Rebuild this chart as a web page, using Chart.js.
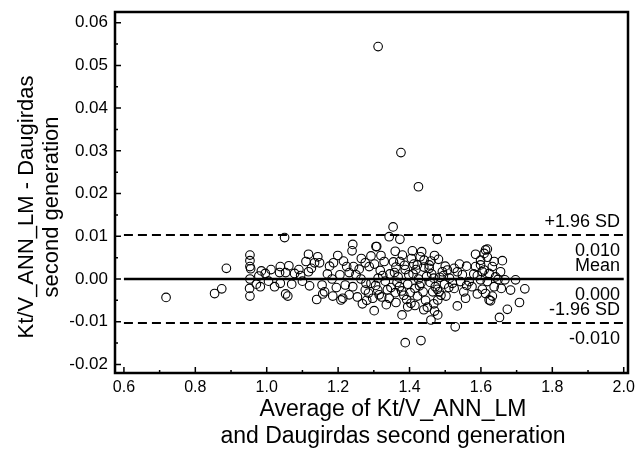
<!DOCTYPE html>
<html>
<head>
<meta charset="utf-8">
<script src="https://cdn.jsdelivr.net/npm/chart.js@4.4.1/dist/chart.umd.min.js"></script>
<style>
  html, body { margin: 0; padding: 0; background: #fff; }
</style>
</head>
<body>
<canvas id="chart" width="635" height="449"></canvas>
<script>
// Bland-Altman: average of the two methods vs their difference
const avgValues = [
  0.718, 0.854, 0.874, 0.887,
  0.953, 0.953, 0.953, 0.955, 0.953, 0.952, 0.953,
  0.971, 0.982, 0.985, 0.996, 0.978,
  1.050, 1.038, 1.062, 1.036, 1.053, 1.078, 1.038, 1.022, 1.053, 1.059,
  1.117, 1.143, 1.110, 1.134, 1.148, 1.117, 1.120, 1.155, 1.162, 1.157, 1.140,
  1.183, 1.176, 1.187, 1.199, 1.241, 1.239, 1.224, 1.243, 1.231, 1.220, 1.241, 1.231, 1.213, 1.208,
  1.259, 1.264, 1.276, 1.287, 1.278, 1.276, 1.292, 1.306, 1.301, 1.297, 1.311, 1.292,
  1.254, 1.268, 1.285, 1.250, 1.205, 1.195, 1.170, 1.100, 1.090,
  1.312, 1.376, 1.425, 1.354,
  1.343, 1.373, 1.478, 1.308, 1.408, 1.434, 1.380, 1.373, 1.481, 1.585, 1.613, 1.599, 1.329, 1.441,
  1.455, 1.422, 1.525, 1.506, 1.492, 1.534, 1.585, 1.609,
  1.543, 1.567, 1.525, 1.557, 1.534, 1.379, 1.460, 1.479, 1.528, 1.388, 1.432, 1.404, 1.450, 1.479,
  1.483, 1.343, 1.315, 1.623,
  1.618, 1.609, 1.618, 1.637, 1.660, 1.632, 1.655, 1.599, 1.604, 1.623, 1.641, 1.599, 1.618, 1.648,
  1.667, 1.697, 1.604, 1.637, 1.657, 1.683, 1.723, 1.632, 1.627, 1.708, 1.674, 1.652, 1.613,
  1.302, 1.318, 1.325, 1.332, 1.305, 1.338, 1.322, 1.345, 1.312, 1.348,
  1.355, 1.362, 1.358, 1.368, 1.365, 1.372, 1.378, 1.384, 1.392, 1.388, 1.395, 1.398, 1.360, 1.386,
  1.405, 1.412, 1.418, 1.410, 1.425, 1.432, 1.415, 1.438, 1.422, 1.445, 1.440, 1.428, 1.448, 1.402,
  1.455, 1.462, 1.468, 1.458, 1.472, 1.465, 1.488, 1.495, 1.478, 1.485, 1.498,
  1.512, 1.520, 1.548, 1.560, 1.575, 1.590, 1.552, 1.502,
  1.415, 1.440, 1.468, 1.395, 1.362, 1.335, 1.470, 1.430, 1.470, 1.360, 1.320, 1.460, 1.500, 1.510,
  1.540, 1.560, 1.580, 1.590,
  1.005, 1.012, 1.070, 1.095, 1.125, 1.185, 1.215, 1.265, 1.280
];
const diffValues = [
  -0.0043, -0.0034, -0.0023, 0.0025,
  0.0056, 0.0043, 0.0029, 0.0024, 0.0000, -0.0022, -0.0040,
  -0.0012, -0.0018, 0.0019, 0.0013, 0.0007,
  0.0097, 0.0029, 0.0031, 0.0015, 0.0015, 0.0013, -0.0010, -0.0018, -0.0035, -0.0040,
  0.0058, 0.0052, 0.0041, 0.0038, 0.0038, 0.0017, -0.0016, -0.0014, -0.0030, -0.0035, -0.0048,
  0.0000, 0.0030, 0.0038, 0.0055, 0.0081, 0.0066, 0.0029, 0.0029, 0.0015, -0.0014, -0.0018, -0.0037, -0.0045, -0.0049,
  0.0023, 0.0000, 0.0038, 0.0029, -0.0010, -0.0026, 0.0054, 0.0076, -0.0074, -0.0045, -0.0026, -0.0010,
  -0.0042, -0.0058, -0.0033, 0.0010, 0.0010, -0.0020, 0.0012, -0.0005, 0.0022,
  0.0544, 0.0296, 0.0216, 0.0122,
  0.0099, 0.0093, 0.0093, 0.0076, 0.0066, 0.0064, 0.0056, 0.0041, 0.0046, 0.0058, 0.0068, 0.0044, 0.0041, 0.0044,
  0.0033, 0.0033, 0.0025, 0.0021, 0.0017, 0.0017, 0.0029, 0.0021,
  -0.0006, -0.0006, -0.0022, -0.0045, -0.0063, -0.0084, -0.0096, -0.0084, -0.0112, -0.0149, -0.0144, -0.0057, -0.0066, -0.0049,
  -0.0030, -0.0045, -0.0037, -0.0049,
  0.0070, 0.0060, 0.0051, 0.0041, 0.0043, 0.0029, 0.0017, 0.0033, 0.0017, 0.0013, 0.0005, -0.0002, -0.0006, -0.0001,
  -0.0002, -0.0002, -0.0024, -0.0018, -0.0022, -0.0026, -0.0023, -0.0040, -0.0051, -0.0055, -0.0071, -0.0090, -0.0034,
  0.0035, 0.0020, 0.0008, -0.0005, -0.0015, -0.0025, -0.0042, 0.0012, 0.0002, -0.0020,
  0.0040, 0.0028, 0.0015, 0.0005, -0.0008, -0.0018, -0.0028, -0.0038, -0.0048, 0.0022, -0.0012, 0.0010, -0.0032, 0.0032,
  0.0048, 0.0035, 0.0022, 0.0012, 0.0000, -0.0010, -0.0022, -0.0030, -0.0040, -0.0050, 0.0028, -0.0016, 0.0006, -0.0032,
  0.0025, 0.0012, 0.0002, -0.0008, -0.0018, -0.0030, -0.0038, 0.0008, -0.0024, 0.0004, -0.0012,
  0.0002, -0.0010, 0.0010, 0.0030, -0.0018, 0.0008, -0.0030, -0.0040,
  -0.0062, -0.0072, -0.0058, -0.0065, -0.0055, -0.0060, -0.0075, 0.0052, 0.0055, 0.0065, 0.0055, 0.0042, 0.0030, -0.0020,
  0.0035, -0.0015, 0.0012, -0.0035,
  -0.0005, 0.0022, -0.0012, 0.0008, 0.0025, -0.0040, 0.0042, 0.0048, -0.0050
];

// mean and limits of agreement
const limitValues = [0.0103, 0.0000, -0.0103];
const limitNames = ["+1.96 SD", "Mean", "-1.96 SD"];
const limitLabels = ["0.010", "0.000", "-0.010"];
const lineRange = [0.6, 2.0];

const xTicks = [0.6, 0.8, 1.0, 1.2, 1.4, 1.6, 1.8, 2.0];
const xMinorTicks = [0.7, 0.9, 1.1, 1.3, 1.5, 1.7, 1.9];
const yTicks = [-0.02, -0.01, 0.00, 0.01, 0.02, 0.03, 0.04, 0.05, 0.06];
const yMinorTicks = [-0.015, -0.005, 0.005, 0.015, 0.025, 0.035, 0.045, 0.055];

const xTitle = ["Average of Kt/V_ANN_LM", "and Daugirdas second generation"];
const yTitle = ["Kt/V_ANN_LM - Daugirdas", "second generation"];

const FONT = "Arial, 'Liberation Sans', sans-serif";

const points = avgValues.map((x, i) => ({x: x, y: diffValues[i]}));

function limitDataset(v, i) {
    return {
        type: 'line',
        data: lineRange.map(x => ({x: x, y: v})),
        borderColor: '#000',
        borderWidth: i === 1 ? 2.5 : 2,
        borderDash: i === 1 ? [] : [9, 5],
        pointRadius: 0,
        fill: false
    };
}

// frame, inward ticks, limit labels and axis titles
const decorations = {
    id: 'decorations',
    afterDraw(chart) {
        const ctx = chart.ctx;
        const a = chart.chartArea;
        const xs = chart.scales.x, ys = chart.scales.y;
        ctx.save();
        ctx.strokeStyle = '#000';
        ctx.lineWidth = 1.5;
        ctx.beginPath();
        yTicks.forEach(v => { const p = ys.getPixelForValue(v); ctx.moveTo(a.left, p); ctx.lineTo(a.left + 6, p); });
        yMinorTicks.forEach(v => { const p = ys.getPixelForValue(v); ctx.moveTo(a.left, p); ctx.lineTo(a.left + 3, p); });
        xTicks.forEach(v => { const p = xs.getPixelForValue(v); ctx.moveTo(p, a.bottom); ctx.lineTo(p, a.bottom - 6); });
        xMinorTicks.forEach(v => { const p = xs.getPixelForValue(v); ctx.moveTo(p, a.bottom); ctx.lineTo(p, a.bottom - 3); });
        ctx.stroke();

        ctx.lineWidth = 2.5;
        ctx.strokeRect(a.left, a.top, a.right - a.left, a.bottom - a.top);

        ctx.fillStyle = '#000';
        ctx.font = "18px " + FONT;
        ctx.textAlign = 'right';
        ctx.textBaseline = 'middle';
        limitValues.forEach((v, i) => {
            const p = ys.getPixelForValue(v);
            ctx.fillText(limitNames[i], a.right - 8, p - 13);
            ctx.fillText(limitLabels[i], a.right - 8, p + 16);
        });

        ctx.font = "23px " + FONT;
        ctx.textAlign = 'center';
        ctx.fillText(xTitle[0], 393, 410);
        ctx.fillText(xTitle[1], 393, 437);

        ctx.font = "22px " + FONT;
        ctx.translate(0, 207);
        ctx.rotate(-Math.PI / 2);
        ctx.fillText(yTitle[0], 0, 27);
        ctx.fillText(yTitle[1], 0, 52);
        ctx.restore();
    }
};

new Chart(document.getElementById('chart'), {
    type: 'scatter',
    data: {
        datasets: [{
            data: points,
            pointRadius: 4.3,
            pointStyle: 'circle',
            backgroundColor: 'rgba(0,0,0,0)',
            borderColor: '#000',
            borderWidth: 1.1
        }].concat(limitValues.map(limitDataset))
    },
    options: {
        responsive: false,
        animation: false,
        layout: { padding: { top: 12, right: 7, left: 0, bottom: 0 } },
        plugins: { legend: { display: false }, tooltip: { enabled: false } },
        scales: {
            x: {
                type: 'linear',
                min: 0.575,
                max: 2.012,
                afterBuildTicks: s => { s.ticks = xTicks.map(v => ({value: v})); },
                afterFit: s => { s.height = 76; s.paddingLeft = 0; s.paddingRight = 0; },
                grid: { display: false, drawTicks: false },
                border: { display: false },
                ticks: {
                    color: '#000',
                    font: { size: 16, family: FONT },
                    padding: 5,
                    maxRotation: 0,
                    callback: v => v.toFixed(1)
                }
            },
            y: {
                type: 'linear',
                min: -0.022,
                max: 0.0625,
                afterBuildTicks: s => { s.ticks = yTicks.map(v => ({value: v})); },
                afterFit: s => { s.width = 115; s.paddingTop = 0; s.paddingBottom = 0; },
                grid: { display: false, drawTicks: false },
                border: { display: false },
                ticks: {
                    color: '#000',
                    font: { size: 17, family: FONT },
                    padding: 7,
                    callback: v => v.toFixed(2)
                }
            }
        }
    },
    plugins: [decorations]
});
</script>
</body>
</html>
